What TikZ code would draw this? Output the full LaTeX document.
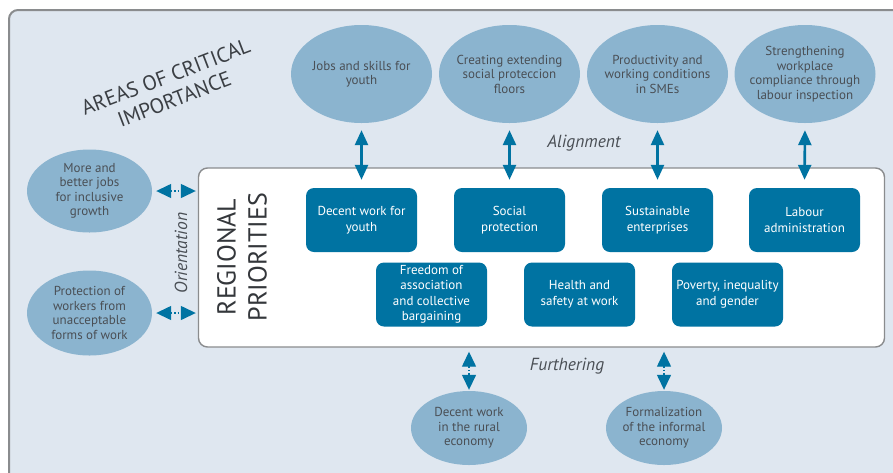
\documentclass[tikz,border=0pt]{standalone}
\usepackage{fontspec}
\setmainfont{PT Sans}
\usetikzlibrary{arrows.meta,shapes.geometric}
\definecolor{iloblue}{HTML}{0073A2}
\definecolor{areablue}{HTML}{8BB4CF}
\definecolor{panel}{HTML}{DFE7F0}
\definecolor{rim}{HTML}{8A8C8E}
\definecolor{ink}{HTML}{4A4F55}
\tikzset{
  area/.style={ellipse, fill=areablue, inner sep=0pt},
  areatext/.style={align=center, text=ink, font=\fontsize{13}{14.5}\selectfont},
  prio/.style={fill=iloblue, rounded corners=8pt, minimum width=111pt,
    minimum height=64pt, inner sep=0pt, text=white, align=center,
    font=\fontsize{13}{15.5}\selectfont},
  link/.style={iloblue, line width=2.6pt,
    {Triangle[length=15pt,width=13pt]}-{Triangle[length=15pt,width=13pt]}},
  dlink/.style={iloblue, line width=1.4pt, dotted,
    {Triangle[length=15pt,width=14pt]}-{Triangle[length=15pt,width=14pt]}},
  tag/.style={text=ink, font=\fontsize{17.5}{19}\selectfont\itshape}
}
\begin{document}
\begin{tikzpicture}[x=1pt,y=-1pt]
  \useasboundingbox (0,0) rectangle (893,472);
  \clip (0,0) rectangle (893,472);
  % background panel
  \draw[rim, line width=2pt, fill=panel, rounded corners=9pt] (9,10) rectangle (920,500);
  \node[rotate=21, align=center, text=ink!80!black,
    font=\fontsize{21}{24}\selectfont] (title) at (170,88)
    {AREAS OF CRITICAL\\IMPORTANCE};
  % regional priorities frame
  \node[draw=rim, line width=1.4pt, fill=white, rounded corners=9pt,
    minimum width=686pt, minimum height=179pt, inner sep=0pt] (regional) at (541.5,257.5) {};
  \node[rotate=90, align=center, text=ink!70!black,
    font=\fontsize{26}{31}\selectfont] (rptext) at (242,257) {REGIONAL\\PRIORITIES};
  % areas of critical importance
  \node[area, minimum width=141pt, minimum height=98pt] (al1) at (361.5,74) {};
  \node[area, minimum width=141pt, minimum height=98pt] (al2) at (509.5,74) {};
  \node[area, minimum width=141pt, minimum height=98pt] (al3) at (657.5,74) {};
  \node[area, minimum width=141pt, minimum height=98pt] (al4) at (805,74) {};
  \node[area, minimum width=125pt, minimum height=83pt] (or1) at (89.5,191) {};
  \node[area, minimum width=125pt, minimum height=85pt] (or2) at (89.5,313) {};
  \node[area, minimum width=116pt, minimum height=74pt] (fu1) at (469,428) {};
  \node[area, minimum width=116pt, minimum height=74pt] (fu2) at (664,428) {};
  \node[areatext] at (al1) {Jobs and skills for\\youth};
  \node[areatext] at (al2) {Creating extending\\social proteccion\\floors};
  \node[areatext] at (al3) {Productivity and\\working conditions\\in SMEs};
  \node[areatext] at (al4) {Strengthening\\workplace\\compliance through\\labour inspection};
  \node[areatext] at (or1) {More and\\better jobs\\for inclusive\\growth};
  \node[areatext] at (or2) {Protection of\\workers from\\unacceptable\\forms of work};
  \node[areatext] at (fu1) {Decent work\\in the rural\\economy};
  \node[areatext] at (fu2) {Formalization\\of the informal\\economy};
  % regional priorities
  \node[prio] (rp1) at (361.5,220) {Decent work for\\youth};
  \node[prio] (rp2) at (509.5,220) {Social\\protection};
  \node[prio] (rp3) at (657.5,220) {Sustainable\\enterprises};
  \node[prio] (rp4) at (804.5,220) {Labour\\administration};
  \node[prio] (rp5) at (431.5,294.5) {Freedom of\\association\\and collective\\bargaining};
  \node[prio] (rp6) at (579.5,294.5) {Health and\\safety at work};
  \node[prio] (rp7) at (727.5,294.5) {Poverty, inequality\\and gender};
  % links
  \foreach \i in {1,...,4}
    \draw[link, shorten <=7pt, shorten >=8pt] (al\i.south) -- (rp\i.north);
  \foreach \i in {1,2}
    \draw[dlink, shorten <=4pt, shorten >=2pt] (or\i.east) -- (or\i.east -| regional.west);
  \foreach \i in {1,2}
    \draw[dlink, shorten <=4pt, shorten >=1pt] (fu\i.north |- regional.south) -- (fu\i.north);
  % labels
  \node[tag] (align) at (584,143) {Alignment};
  \node[tag] (furth) at (567,366) {Furthering};
  \node[tag, rotate=90] (orient) at (181,253) {Orientation};
\end{tikzpicture}
\end{document}
